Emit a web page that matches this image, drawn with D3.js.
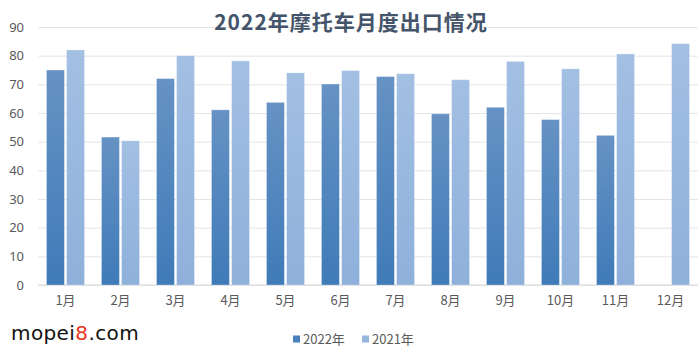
<!DOCTYPE html>
<html lang="zh">
<head>
<meta charset="UTF-8">
<title>2022年摩托车月度出口情况</title>
<script src="https://d3js.org/d3.v7.min.js"></script>
<style>
  body { margin: 0; background: #fff; font-family: "Noto Sans CJK SC", "Noto Sans", sans-serif; }
  .grid line { stroke: #e4e4e4; }
  .grid path { display: none; }
  .axis path, .axis line { display: none; }
</style>
</head>
<body>
<div id="chart"></div>
<script>
// data
const months = ["1月","2月","3月","4月","5月","6月","7月","8月","9月","10月","11月","12月"];
const series = ["2022年", "2021年"];
const values2022 = [75, 51.6, 72, 61.1, 63.7, 70.1, 72.7, 59.7, 62, 57.7, 52.2, null];
const values2021 = [82, 50.3, 80, 78.2, 74, 74.8, 73.7, 71.6, 78, 75.4, 80.6, 84.2];
const yTicks = [0, 10, 20, 30, 40, 50, 60, 70, 80, 90];

const W = 700, H = 355;
const margin = {top: 27, right: 2, bottom: 70, left: 38};
const width = W - margin.left - margin.right,
      height = H - margin.top - margin.bottom;

const root = d3.select("#chart").append("svg")
  .attr("width", W).attr("height", H);

// gradients for the bars
const defs = root.append("defs");
function grad(id, top, bottom) {
  const g = defs.append("linearGradient").attr("id", id)
    .attr("x1", 0).attr("y1", 0).attr("x2", 0).attr("y2", 1);
  g.append("stop").attr("offset", "0%").attr("stop-color", top);
  g.append("stop").attr("offset", "100%").attr("stop-color", bottom);
}
grad("g2022", "#6692c4", "#3f7bb8");
grad("g2021", "#a3c0e3", "#8eb0da");
const colors = {"2022年": "url(#g2022)", "2021年": "url(#g2021)"};
const legendColors = {"2022年": "#4a80bb", "2021年": "#96b6de"};

const svg = root.append("g").attr("transform", `translate(${margin.left},${margin.top})`);

const x = d3.scaleBand().domain(months).range([0, width]).paddingInner(0).paddingOuter(0);
const xs = d3.scaleBand().domain(series).range([8.5, x.bandwidth() - 8.5]).paddingInner(0.11);
const y = d3.scaleLinear().domain([0, 90]).range([height, 0]);

// grid
svg.append("g").attr("class", "grid")
  .call(d3.axisLeft(y).tickValues(yTicks).tickSize(-width).tickFormat(""));

// bottom axis line
svg.append("line")
  .attr("x1", 0).attr("x2", width)
  .attr("y1", y(0)).attr("y2", y(0))
  .attr("stroke", "#d9d9d9");

// y axis labels
svg.append("g").attr("class", "axis")
  .call(d3.axisLeft(y).tickValues(yTicks).tickSize(0).tickPadding(14))
  .selectAll("text")
  .style("font-size", "13px").style("fill", "#595959")
  .style("font-family", "'Noto Sans', sans-serif");

// x axis labels
svg.append("g").attr("class", "axis")
  .attr("transform", `translate(0,${height})`)
  .call(d3.axisBottom(x).tickSize(0).tickPadding(11))
  .selectAll("text")
  .style("font-size", "13px").style("fill", "#595959")
  .style("font-family", "'Noto Sans CJK SC', sans-serif");

// bars
const rows = months.map((m, i) => ({month: m, vals: [
  {s: "2022年", v: values2022[i]},
  {s: "2021年", v: values2021[i]}
]}));

svg.selectAll("g.month")
  .data(rows)
  .join("g")
  .attr("class", "month")
  .attr("transform", d => `translate(${x(d.month)},0)`)
  .selectAll("rect")
  .data(d => d.vals.filter(v => v.v != null))
  .join("rect")
  .attr("x", d => xs(d.s))
  .attr("width", xs.bandwidth())
  .attr("y", d => y(d.v))
  .attr("height", d => y(0) - y(d.v))
  .attr("fill", d => colors[d.s])
  .attr("stroke", "#ffffff").attr("stroke-opacity", 0.35).attr("stroke-width", 0.8);

// title
root.append("text")
  .attr("x", 351).attr("y", 30)
  .attr("text-anchor", "middle")
  .style("font-size", "21px").style("font-weight", "bold")
  .style("letter-spacing", "1px")
  .style("fill", "#44546a")
  .text("2022年摩托车月度出口情况");

// legend
const legend = root.append("g").attr("transform", "translate(293,339)");
const li = legend.selectAll("g").data(series).join("g")
  .attr("transform", (d, i) => `translate(${i * 69},0)`);
li.append("rect").attr("x", 0).attr("y", -3.5).attr("width", 7).attr("height", 7)
  .attr("fill", d => legendColors[d]);
li.append("text").attr("x", 10).attr("y", 5)
  .style("font-size", "13px").style("fill", "#595959")
  .text(d => d);

// watermark
const wm = root.append("text")
  .attr("x", 11).attr("y", 340)
  .style("font-size", "20px")
  .style("font-family", "'DejaVu Sans', sans-serif")
  .style("letter-spacing", "0.4px")
  .style("fill", "#111");
wm.append("tspan").text("mopei");
wm.append("tspan").style("fill", "#e8361c").text("8");
wm.append("tspan").text(".com");
</script>
</body>
</html>
